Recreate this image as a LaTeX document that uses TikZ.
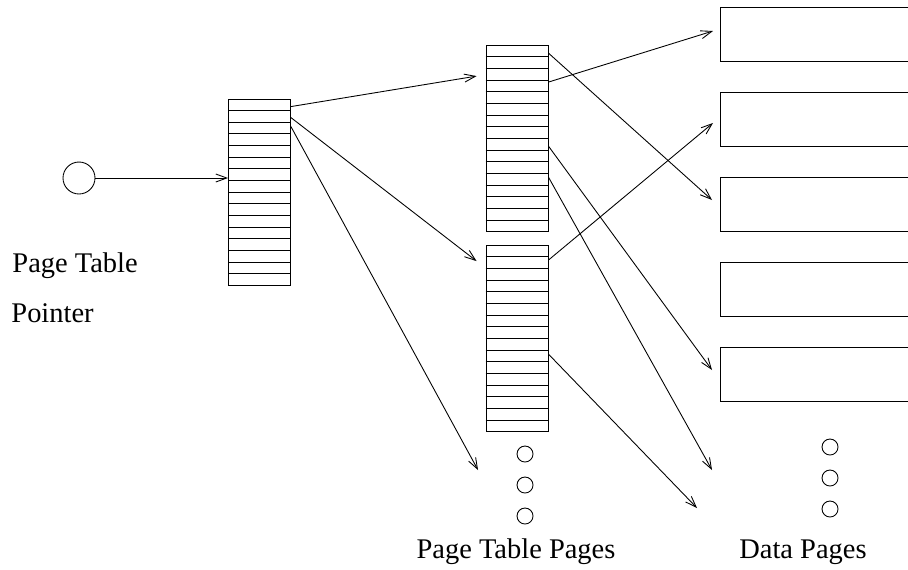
\documentclass[tikz,border=0pt]{standalone}
\usepackage{fontspec}
\setmainfont{Liberation Serif}
\usetikzlibrary{arrows.meta,calc}

\begin{document}
\begin{tikzpicture}[x=0.02cm,y=-0.02cm,line width=0.5pt,
    >={Straight Barb[length=0.22cm,width=0.16cm]},
    tbl/.style={draw,rectangle,minimum width=1.24cm,minimum height=3.72cm,inner sep=0pt},
    page/.style={draw,rectangle,minimum width=4cm,minimum height=1.08cm,inner sep=0pt},
    dot/.style={draw,circle,minimum size=0.32cm,inner sep=0pt},
    lbl/.style={font=\fontsize{16.2}{19}\selectfont,inner sep=0pt}]
    \clip (0,0) rectangle (908,569);

    \node[dot,minimum size=0.64cm] (ptp) at (79,178) {};
    \node[tbl] (top) at (259.5,192) {};
    \node[tbl] (pt1) at (517,138.5) {};
    \node[tbl] (pt2) at (517,338.5) {};
    \foreach \t in {top,pt1,pt2}
      \foreach \i in {1,...,15}
        \draw ($(\t.north west)!\i/16!(\t.south west)$) -- ($(\t.north east)!\i/16!(\t.south east)$);

    % data pages
    \foreach \y [count=\k] in {34,119,204,289,374}
      \node[page,anchor=west] (d\k) at (720,\y) {};

    % more pages
    \foreach \y [count=\k] in {454,485,516}
      \node[dot] (pd\k) at (525,\y) {};
    \foreach \y [count=\k] in {447,478,509}
      \node[dot] (dd\k) at (830,\y) {};

    \node[lbl,anchor=base west] (ptlab) at (12,272) {Page Table};
    \node[lbl,anchor=base west] (ptlab2) at (11,322) {Pointer};
    \node[lbl,anchor=base] (ptplab) at (516,558) {Page Table Pages};
    \node[lbl,anchor=base] (dplab) at (803,558) {Data Pages};

    \coordinate (x1) at (478,470);
    \coordinate (x2) at (712,470);
    \coordinate (x3) at (697,508);

    \path[->]
    (ptp) edge (ptp -| top.west)
    ($(top.north east)+(0,8)$) edge ($(pt1.north west)+(-9,31)$)
    ($(top.north east)+(0,19)$) edge ($(pt2.north west)+(-9,16)$)
    ($(top.north east)+(0,28)$) edge (x1)
    ($(pt1.north east)+(0,8)$) edge ($(d3.west)+(-8,-4)$)
    ($(pt1.north east)+(0,37)$) edge ($(d1.west)+(-7,-3)$)
    ($(pt1.north east)+(0,101)$) edge ($(d5.west)+(-8,-4)$)
    ($(pt1.north east)+(0,132)$) edge (x2)
    ($(pt2.north east)+(0,15)$) edge ($(d2.west)+(-7,4)$)
    ($(pt2.north east)+(0,109)$) edge (x3);
\end{tikzpicture}
\end{document}
